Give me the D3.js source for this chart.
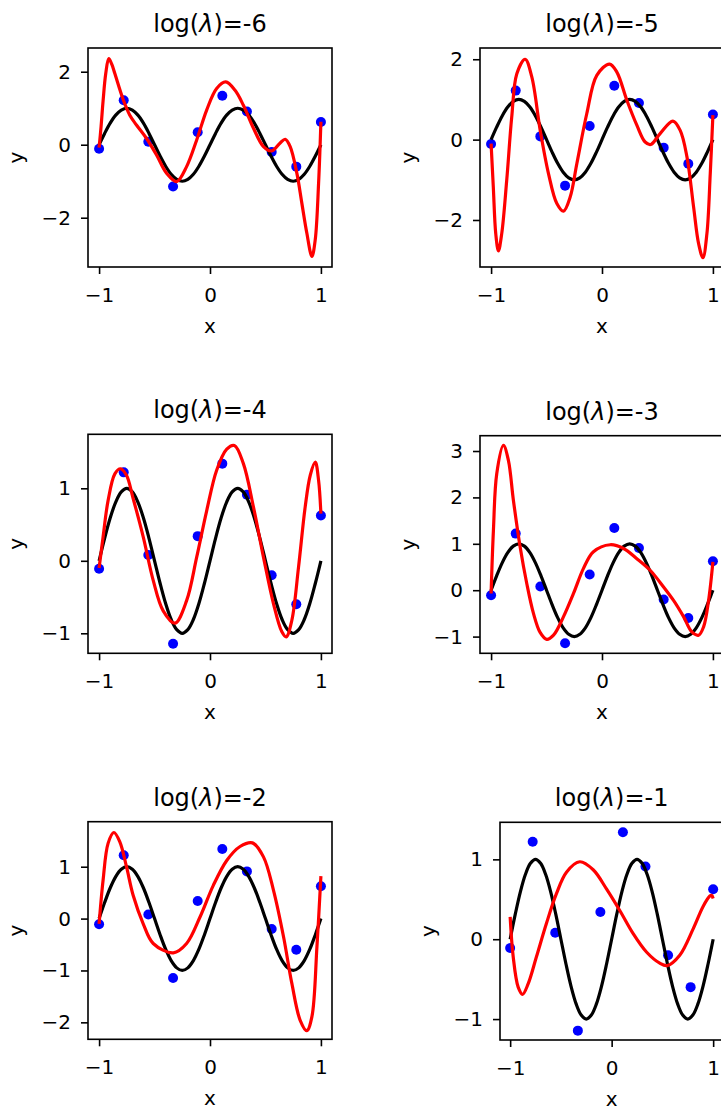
<!DOCTYPE html>
<html>
<head>
<meta charset="utf-8">
<script src="https://cdn.jsdelivr.net/npm/d3@7"></script>
<style>
  body { margin: 0; background: #fff; overflow: hidden; }
  text { font-family: "DejaVu Sans", sans-serif; fill: #000; }
</style>
</head>
<body>
<svg id="vis" width="721" height="1110"></svg>
<script>
// regularization strengths, one per panel
let logLambda = [-6, -5, -4, -3, -2, -1];

// noisy samples (blue)
let sampleX = [-1, -0.778, -0.556, -0.333, -0.111, 0.111, 0.333, 0.556, 0.778, 1];
let sampleY = [-0.11, 1.22, 0.08, -1.145, 0.34, 1.34, 0.91, -0.2, -0.6, 0.625];

// true curve (black)
let trueX = [-1, -0.95, -0.9, -0.85, -0.8, -0.75, -0.7, -0.65, -0.6, -0.55, -0.5,
             -0.45, -0.4, -0.35, -0.3, -0.25, -0.2, -0.15, -0.1, -0.05, 0,
             0.05, 0.1, 0.15, 0.2, 0.25, 0.3, 0.35, 0.4, 0.45, 0.5,
             0.55, 0.6, 0.65, 0.7, 0.75, 0.8, 0.85, 0.9, 0.95, 1];
let trueY = [0, 0.31, 0.59, 0.81, 0.95, 1, 0.95, 0.81, 0.59, 0.31, 0,
             -0.31, -0.59, -0.81, -0.95, -1, -0.95, -0.81, -0.59, -0.31, 0,
             0.31, 0.59, 0.81, 0.95, 1, 0.95, 0.81, 0.59, 0.31, 0,
             -0.31, -0.59, -0.81, -0.95, -1, -0.95, -0.81, -0.59, -0.31, 0];

// fitted curves (red), [x, y]
let fitM6 = [[-1,-0.08],[-0.982,0.5],[-0.964,1.2],[-0.94,1.95],[-0.913,2.36],[-0.885,2.2],[-0.858,1.95],
  [-0.783,1.24],[-0.723,0.81],[-0.663,0.54],[-0.572,0.17],[-0.482,-0.28],[-0.392,-0.78],[-0.301,-1.01],
  [-0.211,-0.6],[-0.12,0.13],[-0.03,0.95],[0.06,1.54],[0.142,1.72],[0.226,1.49],[0.301,1.08],[0.392,0.45],
  [0.482,-0.05],[0.557,-0.17],[0.633,0.05],[0.678,0.15],[0.723,-0.05],[0.783,-0.78],[0.828,-1.6],
  [0.873,-2.42],[0.919,-3.06],[0.949,-2.6],[0.979,-1.06],[1,0.63]];
let fitM5 = [[-1,-0.1],[-0.98,-1.18],[-0.958,-2.34],[-0.934,-2.77],[-0.904,-2.34],[-0.859,-1.01],
  [-0.814,0.56],[-0.768,1.64],[-0.693,2.0],[-0.633,1.56],[-0.557,0.23],[-0.482,-0.85],[-0.407,-1.59],
  [-0.347,-1.78],[-0.287,-1.43],[-0.227,-0.6],[-0.137,0.65],[-0.047,1.6],[0.068,1.88],[0.134,1.68],
  [0.224,0.98],[0.314,0.36],[0.389,-0.06],[0.44,-0.12],[0.524,0.15],[0.639,0.46],[0.705,0.23],
  [0.766,-0.43],[0.826,-1.68],[0.871,-2.59],[0.91,-2.94],[0.946,-2.34],[0.976,-0.85],[1,0.61]];
let fitM4 = [[-1,-0.1],[-0.964,0.33],[-0.919,0.83],[-0.858,1.2],[-0.807,1.27],[-0.753,1.18],
  [-0.693,0.86],[-0.602,0.33],[-0.512,-0.27],[-0.422,-0.69],[-0.316,-0.86],[-0.211,-0.55],[-0.12,0.05],
  [-0.03,0.69],[0.06,1.25],[0.151,1.54],[0.22,1.59],[0.301,1.34],[0.392,0.74],[0.482,0.05],[0.572,-0.59],
  [0.648,-0.98],[0.687,-1.05],[0.738,-0.82],[0.798,-0.09],[0.858,0.74],[0.904,1.18],[0.949,1.36],
  [0.979,1.11],[1,0.65]];
let fitM3 = [[-1,-0.07],[-0.979,1.29],[-0.949,2.51],[-0.889,3.12],[-0.844,2.8],[-0.799,1.94],
  [-0.738,0.93],[-0.678,0.14],[-0.618,-0.5],[-0.558,-0.91],[-0.498,-1.06],[-0.437,-0.97],[-0.347,-0.57],
  [-0.257,-0.07],[-0.167,0.47],[-0.077,0.83],[0.074,0.98],[0.194,0.9],[0.314,0.68],[0.434,0.43],
  [0.555,0.07],[0.645,-0.22],[0.735,-0.57],[0.81,-0.9],[0.871,-0.97],[0.916,-0.79],[0.961,-0.22],[1,0.61]];
let fitM2 = [[-1,-0.1],[-0.964,0.74],[-0.919,1.45],[-0.867,1.66],[-0.813,1.48],[-0.753,1.0],
  [-0.693,0.45],[-0.602,-0.1],[-0.512,-0.48],[-0.331,-0.66],[-0.211,-0.48],[-0.09,0.03],[0.03,0.64],
  [0.151,1.12],[0.271,1.39],[0.383,1.46],[0.482,1.19],[0.572,0.55],[0.663,-0.35],[0.738,-1.25],
  [0.813,-1.96],[0.873,-2.16],[0.919,-1.89],[0.964,-0.55],[1,0.82]];
let fitM1 = [[-1,0.28],[-0.97,-0.22],[-0.921,-0.6],[-0.878,-0.69],[-0.823,-0.56],[-0.741,-0.22],
  [-0.642,0.2],[-0.544,0.57],[-0.445,0.84],[-0.314,0.97],[-0.182,0.87],[-0.051,0.63],[0.08,0.36],
  [0.212,0.07],[0.343,-0.16],[0.474,-0.3],[0.547,-0.33],[0.671,-0.2],[0.803,0.13],[0.901,0.41],
  [0.967,0.54],[0.985,0.55],[1,0.51]];
let fits = [fitM6, fitM5, fitM4, fitM3, fitM2, fitM1];

let xTicks = [-1, 0, 1];
let yTickSets = [[-2, 0, 2], [-2, 0, 2], [-1, 0, 1], [-1, 0, 1, 2, 3], [-2, -1, 0, 1], [-1, 0, 1]];
let yLimits = [[-3.35, 2.65], [-3.17, 2.28], [-1.276, 1.745], [-1.36, 3.33], [-2.327, 1.868], [-1.262, 1.464]];

// axes boxes in page pixels
let boxes = [
  {left: 88, top: 48, width: 244, height: 219},
  {left: 480, top: 48, width: 244, height: 219},
  {left: 88, top: 434.3, width: 244, height: 219},
  {left: 480, top: 435.7, width: 244, height: 217.6},
  {left: 88, top: 821.7, width: 244, height: 217.6},
  {left: 500, top: 822.3, width: 223.3, height: 217.7}
];

let svg = d3.select("#vis");
svg.append("rect").attr("width", 721).attr("height", 1110).attr("fill", "#fff");

for (let i = 0; i < logLambda.length; i++) {
  drawPanel(i);
}

function drawPanel(i) {
  let b = boxes[i];
  let g = svg.append("g").attr("transform", `translate(${b.left},${b.top})`);

  let x = d3.scaleLinear().domain([-1.1, 1.1]).range([0, b.width]);
  let y = d3.scaleLinear().domain(yLimits[i]).range([b.height, 0]);

  g.append("clipPath").attr("id", "clip" + i)
    .append("rect").attr("width", b.width).attr("height", b.height);

  let plot = g.append("g").attr("clip-path", `url(#clip${i})`);

  let line = d3.line()
    .x(d => x(d[0]))
    .y(d => y(d[1]))
    .curve(d3.curveCatmullRom.alpha(0.5));

  // samples sit under the lines, like matplotlib's default zorder
  plot.selectAll("circle")
    .data(sampleX)
    .enter()
    .append("circle")
    .attr("cx", d => x(d))
    .attr("cy", (d, k) => y(sampleY[k]))
    .attr("r", 5)
    .attr("fill", "#0000ff");

  let truePts = trueX.map((v, k) => [v, trueY[k]]);
  plot.append("path")
    .attr("d", line(truePts))
    .attr("fill", "none")
    .attr("stroke", "#000")
    .attr("stroke-width", 3.2);

  plot.append("path")
    .attr("d", line(fits[i]))
    .attr("fill", "none")
    .attr("stroke", "#ff0000")
    .attr("stroke-width", 3.2);

  let fmt = d3.format("d");
  let xAxis = g.append("g")
    .attr("transform", `translate(0,${b.height})`)
    .call(d3.axisBottom(x).tickValues(xTicks).tickFormat(fmt)
      .tickSizeInner(7).tickSizeOuter(0).tickPadding(13.5));
  let yAxis = g.append("g")
    .call(d3.axisLeft(y).tickValues(yTickSets[i]).tickFormat(fmt)
      .tickSizeInner(7).tickSizeOuter(0).tickPadding(10));

  [xAxis, yAxis].forEach(a => {
    a.select(".domain").remove();
    a.selectAll("line").attr("stroke", "#000").attr("stroke-width", 1.6);
    a.selectAll("text").attr("font-size", 20).attr("font-family", "DejaVu Sans").attr("fill", "#000");
  });

  g.append("rect")
    .attr("width", b.width)
    .attr("height", b.height)
    .attr("fill", "none")
    .attr("stroke", "#000")
    .attr("stroke-width", 1.6);

  let title = g.append("text")
    .attr("x", x(0))
    .attr("y", -16)
    .attr("text-anchor", "middle")
    .attr("font-size", 24);
  title.append("tspan").text("log(");
  title.append("tspan").attr("font-style", "italic").text("λ");
  title.append("tspan").text(`)=${logLambda[i]}`);

  g.append("text")
    .attr("x", x(0))
    .attr("y", b.height + 66)
    .attr("text-anchor", "middle")
    .attr("font-size", 20)
    .text("x");

  g.append("text")
    .attr("transform", `translate(-65.5,${b.height / 2}) rotate(-90)`)
    .attr("text-anchor", "middle")
    .attr("font-size", 20)
    .text("y");
}
</script>
</body>
</html>
